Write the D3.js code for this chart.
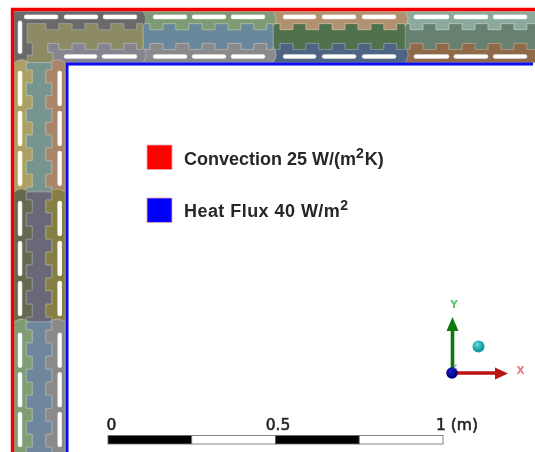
<!DOCTYPE html>
<html>
<head>
<meta charset="utf-8">
<script src="https://cdn.jsdelivr.net/npm/d3@7"></script>
<style>
html,body{margin:0;padding:0;background:#fff;overflow:hidden}
svg{display:block}
</style>
</head>
<body>
<svg id="c" width="535" height="452"></svg>
<script>
// ---- data (all wall lengths in mm along / through the wall) ----
const topBreaks  = [0, 384, 771, 1164, 1600];
const leftBreaks = [152, 537, 924, 1350];
const topTabs  = [95,173,250,327,405,482,560,637,714,792,869,947,1024,1101,1179,1256,1334,1411,1488,1566];
const leftTabs = [174,251,329,406,484,561,639,716,793,871,948,1026,1103,1181,1258];
const tabWidth = 38;
const depthOuterBase = 36, depthOuterTab = 54, depthInnerTab = 95, depthInnerBase = 113, wallDepth = 152;
const topOuterFill   = ['#6b6b6b','#7e9b74','#b0916f','#8caa9c'];
const topMiddleFill  = ['#8c8b63','#6b889c','#4f714b','#66816f'];
const topInnerFill   = ['#86848f','#8a8a8a','#4e6583','#8f6a48'];
const leftOuterFill  = ['#aaa066','#66684f','#7f9c74'];
const leftMiddleFill = ['#76958f','#696878','#6e879c'];
const leftInnerFill  = ['#a9866a','#857f45','#8a8a8a'];
// slots: [start, end, segment]
const topOuterSlots = [[36,125,0],[155,244,0],[271,360,0],[420,509,1],[536,625,1],[652,741,1],[807,893,2],[923,1012,2],[1042,1131,2],[1196,1289,3],[1315,1405,3],[1432,1521,3]];
const topInnerSlots = [[155,241,0],[268,360,0],[420,509,1],[536,625,1],[652,741,1],[807,893,2],[923,1012,2],[1042,1131,2],[1196,1289,3],[1315,1405,3],[1432,1521,3]];
const leftSlots = [[183,275,0],[302,394,0],[421,513,0],[570,662,1],[689,781,1],[808,900,1],[962,1054,2],[1080,1172,2],[1198,1290,2],[1348,1400,2]];
const cornerSlot = [34,120];
const slotOuterDepth = 16, slotInnerDepth = 134;
const outerTail = [[39,36],[39,94],[54,94],[54,130],[39,130],[39,152],[0,152]];
const middleTail = [[101,121],[116,121],[116,152],[39,152],[39,130],[54,130],[54,94],[39,94]];
const innerHead = [[101,121],[116,121],[116,152]];
const legendLabels = ['Convection 25 W/(m','Heat Flux 40 W/m'];
const legendTails = ['K)',''];
const legendColors = ['#ff0000','#0000ff'];
const legendSpacing = [0,0.45];
const barStops = [0,0.25,0.5,0.75,1];
const barFills = ['#000','#fff','#000','#fff'];
const barLabels = [['0',0],['0.5',0.5]];

const svg = d3.select('#c');
const defs = svg.append('defs');
defs.append('filter').attr('id','soft').attr('x','-5%').attr('y','-5%').attr('width','110%').attr('height','110%')
  .append('feGaussianBlur').attr('stdDeviation',0.7);
defs.append('filter').attr('id','softT').append('feGaussianBlur').attr('stdDeviation',0.35);
const tg = defs.append('radialGradient').attr('id','teal').attr('cx','40%').attr('cy','35%');
tg.append('stop').attr('offset','0%').attr('stop-color','#5fe0e4');
tg.append('stop').attr('offset','100%').attr('stop-color','#12989f');
const bg = defs.append('radialGradient').attr('id','navy').attr('cx','40%').attr('cy','35%');
bg.append('stop').attr('offset','0%').attr('stop-color','#1a1ad0');
bg.append('stop').attr('offset','100%').attr('stop-color','#04047e');

svg.append('rect').attr('width',535).attr('height',452).attr('fill','#fff');

const px = d3.scaleLinear().domain([0,1000]).range([14,350]);
const py = d3.scaleLinear().domain([0,1000]).range([11.5,347.5]);
const onTop  = ([a,d]) => [px(a),py(d)];
const onLeft = ([a,d]) => [px(d),py(a)];
const line = d3.line();

function profile(s,e,tabs,base,tab){
  const pts=[[s, (tabs.some(t=>s>=t&&s<t+tabWidth))?tab:base]];
  tabs.forEach(t=>{
    const a=t,b=t+tabWidth;
    if(b<=s||a>=e) return;
    if(a>s){pts.push([a,base],[a,tab]);}
    if(b<e){pts.push([b,tab],[b,base]);}
  });
  pts.push([e,(tabs.some(t=>e>t&&e<=t+tabWidth))?tab:base]);
  return pts;
}
// rounded end of a layer, as in the reference
function bulge(at,d0,d1,dir){
  const r=d1-d0, fr=[0.02,0.12,0.25,0.4,0.5,0.6,0.75,0.88,0.98], h=[0,3,6,8,8.5,8,6,3,0];
  return fr.map((f,i)=>[at+dir*h[i],d0+r*f]);
}
const wall = svg.append('g').attr('filter','url(#soft)');
function draw(pts,map,fill){
  wall.append('path').attr('d',line(pts.map(map))+'Z')
    .attr('fill',fill)
    .attr('stroke',d3.interpolateRgb(fill,'#fff')(0.3))
    .attr('stroke-width',0.8).attr('stroke-linejoin','round');
}
function outerPoly(s,e,tabs,dir){
  const low=profile(s,e,tabs,depthOuterBase,depthOuterTab).reverse();
  return [[s,0],[e,0],...bulge(e,0,depthOuterBase+8,dir),...low,...bulge(s,0,depthOuterBase+8,dir).reverse()];
}
function middlePoly(s,e,tabs){
  return [...profile(s,e,tabs,depthOuterBase,depthOuterTab),...profile(s,e,tabs,depthInnerBase,depthInnerTab).reverse()];
}
function innerPoly(s,e,tabs,dir){
  const up=profile(s,e,tabs,depthInnerBase,depthInnerTab);
  return [...up,...bulge(e,depthInnerBase-8,wallDepth,dir),[e,wallDepth],[s,wallDepth],...bulge(s,depthInnerBase-8,wallDepth,dir).reverse()];
}
// top wall, right-most first so each bulge sits over the next piece
for(let i=topBreaks.length-2;i>=1;i--){
  const s=topBreaks[i],e=topBreaks[i+1];
  draw(middlePoly(s,e,topTabs),onTop,topMiddleFill[i]);
  draw(outerPoly(s,e,topTabs,1),onTop,topOuterFill[i]);
  draw(innerPoly(s,e,topTabs,1),onTop,topInnerFill[i]);
}
// corner pieces
const e0=topBreaks[1];
draw([...profile(39,e0,topTabs,depthOuterBase,depthOuterTab),...profile(101,e0,topTabs,depthInnerBase,depthInnerTab).reverse(),...middleTail],onTop,topMiddleFill[0]);
draw([[0,0],[e0,0],...bulge(e0,0,depthOuterBase+8,1),...profile(39,e0,topTabs,depthOuterBase,depthOuterTab).reverse(),...outerTail],onTop,topOuterFill[0]);
draw([...profile(101,e0,topTabs,depthInnerBase,depthInnerTab),...bulge(e0,depthInnerBase-8,wallDepth,1),[e0,wallDepth],...innerHead.slice().reverse()],onTop,topInnerFill[0]);
// left wall
for(let i=0;i<leftBreaks.length-1;i++){
  const s=leftBreaks[i],e=leftBreaks[i+1];
  draw(middlePoly(s,e,leftTabs),onLeft,leftMiddleFill[i]);
  draw(outerPoly(s,e,leftTabs,-1),onLeft,leftOuterFill[i]);
  draw(innerPoly(s,e,leftTabs,-1),onLeft,leftInnerFill[i]);
}
// slots
function slot(a0,a1,d,map,tint){
  const p=[a0,a1].map(a=>map([a,d]));
  wall.append('path').attr('d',line(p)).attr('stroke',tint).attr('stroke-width',4.6).attr('stroke-linecap','round').attr('fill','none');
  wall.append('path').attr('d',line(p)).attr('stroke','#fff').attr('stroke-width',3.6).attr('stroke-linecap','round').attr('fill','none');
}
const tintOf = c => d3.interpolateRgb(c,'#fff')(0.7);
topOuterSlots.forEach(([a,b,i])=>slot(a,b,slotOuterDepth,onTop,tintOf(topOuterFill[i])));
topInnerSlots.forEach(([a,b,i])=>slot(a,b,slotInnerDepth,onTop,tintOf(topInnerFill[i])));
slot(cornerSlot[0],cornerSlot[1],slotOuterDepth+2,onLeft,tintOf(topOuterFill[0]));
leftSlots.forEach(([a,b,i])=>{
  slot(a,b,slotOuterDepth+2,onLeft,i===0?'#fff3a8':tintOf(leftOuterFill[i]));
  slot(a,b,slotInnerDepth+2,onLeft,i===1?'#fff3a8':tintOf(leftInnerFill[i]));
});
// boundary lines
const edges = svg.append('g').attr('filter','url(#softT)').attr('fill','none');
edges.append('path').attr('d',line([[12.5,452],[12.5,9.5],[535,9.5]])).attr('stroke','#f40000').attr('stroke-width',3.4);
edges.append('path').attr('d',line([[67,452],[67,64],[533,64]])).attr('stroke','#0808ee').attr('stroke-width',3);

// legend
const ink = svg.append('g').attr('filter','url(#softT)');
const legendY=[145,198], legendBase=[165,217];
legendLabels.forEach((t,i)=>{
  ink.append('rect').attr('x',147).attr('y',legendY[i]).attr('width',25).attr('height',24.5)
    .attr('fill',legendColors[i]).attr('stroke','#f4a0a8').attr('stroke-width',0.8);
  const txt=ink.append('text').attr('x',184).attr('y',legendBase[i])
    .attr('font-family','"Liberation Sans",Arial,sans-serif').attr('font-size',18).attr('font-weight','bold')
    .attr('letter-spacing',legendSpacing[i]).attr('fill','#262626');
  txt.append('tspan').text(t);
  txt.append('tspan').attr('dy',-7).attr('font-size',14).text('2');
  if(legendTails[i]) txt.append('tspan').attr('dy',7).attr('dx',1).text(legendTails[i]);
});

// scale bar
const bar = d3.scaleLinear().domain([0,1]).range([108,443]);
barFills.forEach((f,i)=>{
  ink.append('rect').attr('x',bar(barStops[i])).attr('y',435.5)
    .attr('width',bar(barStops[i+1])-bar(barStops[i])).attr('height',8.5)
    .attr('fill',f).attr('stroke','#666').attr('stroke-width',0.8);
});
const barFont='"DejaVu Sans",sans-serif';
barLabels.forEach(([t,v])=>{
  ink.append('text').attr('x',v===0?bar(0)+3.5:bar(v)+2.5).attr('y',430).attr('text-anchor','middle')
    .attr('font-family',barFont).attr('font-size',15.5).attr('fill','#222').attr('stroke','#222').attr('stroke-width',0.55).text(t);
});
ink.append('text').attr('x',bar(1)-7).attr('y',430).attr('font-family',barFont).attr('font-size',15.5)
  .attr('fill','#222').attr('stroke','#222').attr('stroke-width',0.55).text('1 (m)');

// triad
const tri = svg.append('g').attr('filter','url(#softT)');
tri.append('path').attr('d',line([[452.5,373],[452.5,330]])).attr('stroke','#0c780c').attr('stroke-width',3.6);
tri.append('path').attr('d',line([[452.5,317],[458.5,331],[446.5,331]])+'Z').attr('fill','#0c780c');
tri.append('path').attr('d',line([[452,373],[496,373]])).attr('stroke','#b81414').attr('stroke-width',3.4);
tri.append('path').attr('d',line([[508,373.5],[495,367.5],[495,379.5]])+'Z').attr('fill','#b81414');
tri.append('circle').attr('cx',452).attr('cy',373).attr('r',5.8).attr('fill','url(#navy)');
tri.append('text').attr('x',453).attr('y',369).attr('font-size',6).attr('font-family','"DejaVu Sans"').attr('fill','#4a5ad8').text('Z');
tri.append('circle').attr('cx',478.5).attr('cy',346.5).attr('r',6).attr('fill','url(#teal)');
tri.append('text').attr('x',454).attr('y',308).attr('text-anchor','middle').attr('font-size',10.5).attr('font-weight','bold').attr('font-family','"DejaVu Sans"').attr('fill','#55c870').text('Y');
tri.append('text').attr('x',520.5).attr('y',374).attr('text-anchor','middle').attr('font-size',10.5).attr('font-weight','bold').attr('font-family','"DejaVu Sans"').attr('fill','#f27a7a').text('X');
</script>
</body>
</html>
